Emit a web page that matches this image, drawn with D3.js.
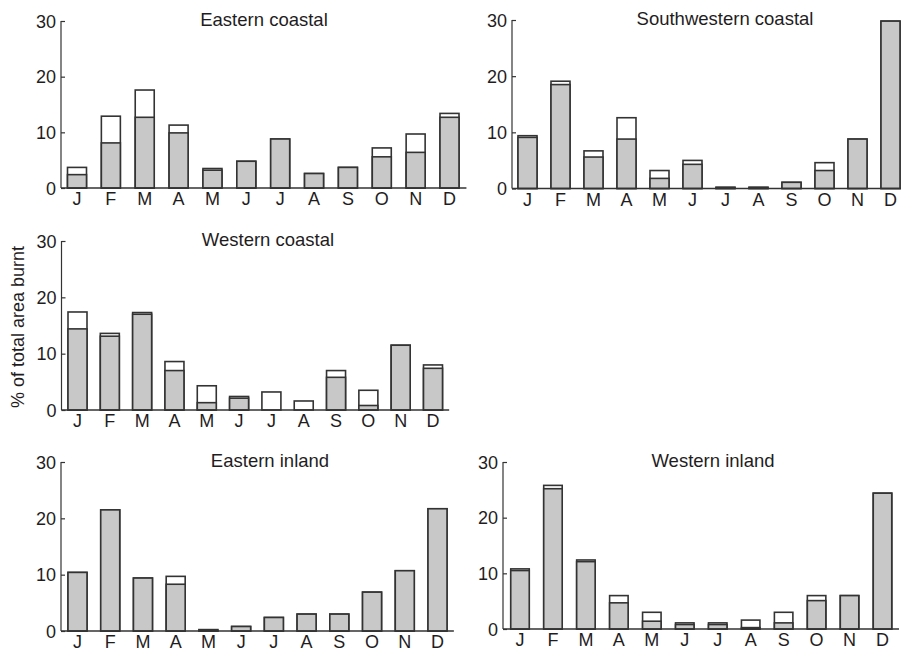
<!DOCTYPE html>
<html>
<head>
<meta charset="utf-8">
<script src="https://cdn.jsdelivr.net/npm/d3@7"></script>
<style>
  body { margin: 0; background: #fff; }
  text { font-family: "Liberation Sans", Arial, sans-serif; fill: #1f1d1e; }
</style>
</head>
<body>
<svg id="chart" width="901" height="651"></svg>
<script>
var months = ["J", "F", "M", "A", "M", "J", "J", "A", "S", "O", "N", "D"];
var yTicks = [0, 10, 20, 30];

// grey = lower part of each bar, white = upper part stacked on top
var eastCoastGrey  = [2.4, 8.1, 12.7, 9.9, 3.2, 4.8, 8.8, 2.6, 3.7, 5.6, 6.4, 12.7];
var eastCoastWhite = [1.3, 4.8, 4.9, 1.4, 0.3, 0, 0, 0, 0, 1.6, 3.3, 0.7];

var swCoastGrey  = [9.1, 18.5, 5.6, 8.8, 1.8, 4.3, 0.1, 0.1, 1.1, 3.2, 8.8, 29.8];
var swCoastWhite = [0.3, 0.6, 1.1, 3.8, 1.4, 0.7, 0.15, 0.15, 0, 1.4, 0, 0];

var westCoastGrey  = [14.4, 13.1, 17.0, 7.0, 1.3, 2.1, 0, 0, 5.8, 0.8, 11.5, 7.4];
var westCoastWhite = [3.0, 0.5, 0.3, 1.6, 3.0, 0.3, 3.2, 1.6, 1.2, 2.7, 0, 0.6];

var eastInlandGrey  = [10.4, 21.5, 9.4, 8.3, 0.1, 0.8, 2.4, 3.0, 3.0, 6.9, 10.7, 21.7];
var eastInlandWhite = [0, 0, 0, 1.4, 0.15, 0, 0, 0, 0, 0, 0, 0];

var westInlandGrey  = [10.5, 25.2, 12.1, 4.7, 1.4, 0.8, 0.8, 0.25, 1.1, 5.1, 6.0, 24.4];
var westInlandWhite = [0.3, 0.6, 0.3, 1.3, 1.6, 0.3, 0.3, 1.35, 1.9, 0.9, 0, 0];

var svg = d3.select("#chart");

// one small panel per region
function drawPanel(title, grey, white, box) {
    var step = (box.lastCenter - box.firstCenter) / 11;
    var start = box.firstCenter - step / 2;
    var x = d3.scaleBand()
        .domain(d3.range(12))
        .range([start, start + 12 * step])
        .paddingInner(1 - box.barW / step)
        .paddingOuter((1 - box.barW / step) / 2);
    var y = d3.scaleLinear().domain([0, 30]).range([box.y0, box.y30]);

    var g = svg.append("g");

    var rows = grey.map(function (d, i) { return { i: i, g: d, w: white[i] }; });

    // white (upper) part drawn as full bar outline
    g.selectAll("rect.total")
        .data(rows.filter(function (d) { return d.g + d.w > 0; }))
        .enter().append("rect")
        .attr("class", "total")
        .attr("x", function (d) { return x(d.i); })
        .attr("y", function (d) { return y(d.g + d.w); })
        .attr("width", x.bandwidth())
        .attr("height", function (d) { return y(0) - y(d.g + d.w); })
        .attr("fill", "#fff")
        .attr("stroke", "#333")
        .attr("stroke-width", 1.6);

    g.selectAll("rect.grey")
        .data(rows.filter(function (d) { return d.g > 0; }))
        .enter().append("rect")
        .attr("class", "grey")
        .attr("x", function (d) { return x(d.i); })
        .attr("y", function (d) { return y(d.g); })
        .attr("width", x.bandwidth())
        .attr("height", function (d) { return y(0) - y(d.g); })
        .attr("fill", "#c8c8c8")
        .attr("stroke", "#333")
        .attr("stroke-width", 1.6);

    // y axis with inward ticks
    var yAxis = d3.axisRight(y).tickValues(yTicks).tickSize(4).tickFormat("");
    var ya = g.append("g")
        .attr("transform", "translate(" + box.axisX + ",0)")
        .call(yAxis);
    ya.select(".domain").attr("stroke", "#333").attr("stroke-width", 1.2)
        .attr("d", "M0," + box.y30 + "V" + box.y0);
    ya.selectAll(".tick line").attr("stroke", "#333").attr("stroke-width", 1.2);

    g.selectAll("text.ytick")
        .data(yTicks)
        .enter().append("text")
        .attr("class", "ytick")
        .attr("x", box.axisX - 5)
        .attr("y", function (d) { return y(d) + 6.5; })
        .attr("text-anchor", "end")
        .style("font-size", "18px")
        .text(function (d) { return d; });

    // baseline
    g.append("line")
        .attr("x1", box.axisX)
        .attr("x2", x.range()[1])
        .attr("y1", y(0))
        .attr("y2", y(0))
        .attr("stroke", "#333")
        .attr("stroke-width", 1.4);

    g.selectAll("text.month")
        .data(months)
        .enter().append("text")
        .attr("class", "month")
        .attr("x", function (d, i) { return x(i) + x.bandwidth() / 2; })
        .attr("y", y(0) + 17)
        .attr("text-anchor", "middle")
        .style("font-size", "18px")
        .text(function (d) { return d; });

    g.append("text")
        .attr("x", box.titleX)
        .attr("y", box.y30 + 5)
        .attr("text-anchor", "middle")
        .style("font-size", "18.5px")
        .text(title);
}

drawPanel("Eastern coastal", eastCoastGrey, eastCoastWhite,
    { axisX: 61, y0: 188, y30: 21, firstCenter: 77, lastCenter: 449.5, barW: 19, titleX: 264 });
drawPanel("Southwestern coastal", swCoastGrey, swCoastWhite,
    { axisX: 512, y0: 188.5, y30: 20, firstCenter: 527.5, lastCenter: 890.5, barW: 19, titleX: 725 });
drawPanel("Western coastal", westCoastGrey, westCoastWhite,
    { axisX: 61.5, y0: 410, y30: 241, firstCenter: 77.5, lastCenter: 433, barW: 19, titleX: 268 });
drawPanel("Eastern inland", eastInlandGrey, eastInlandWhite,
    { axisX: 61, y0: 631, y30: 462, firstCenter: 77.5, lastCenter: 437.5, barW: 19, titleX: 270 });
drawPanel("Western inland", westInlandGrey, westInlandWhite,
    { axisX: 503, y0: 629, y30: 462, firstCenter: 520, lastCenter: 882.5, barW: 18.5, titleX: 713 });

svg.append("text")
    .attr("transform", "translate(24,327) rotate(-90)")
    .attr("text-anchor", "middle")
    .style("font-size", "18px")
    .text("% of total area burnt");
</script>
</body>
</html>
